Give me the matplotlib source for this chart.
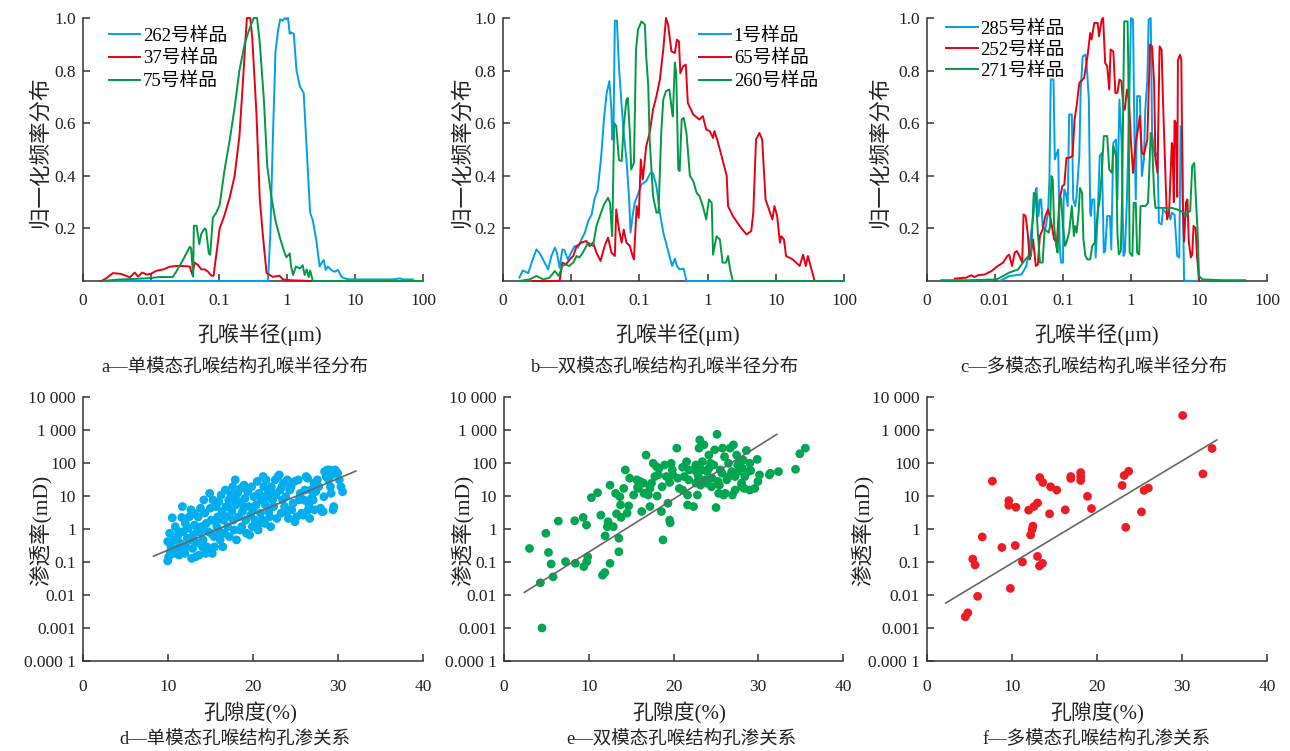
import numpy as np
import matplotlib
matplotlib.use('Agg')
import matplotlib.pyplot as plt

plt.rcParams['font.family'] = ['Liberation Serif', 'Noto Sans CJK SC']

# ---- pore-throat radius distributions (radius as log10 of um, normalised frequency) ----
# a: unimodal
a262_lg = [-2.71, -0.28, -0.245, -0.21, -0.17, -0.13, -0.10, -0.06, -0.03, -0.01,
           0.015, 0.04, 0.06, 0.10, 0.14, 0.19, 0.245, 0.29, 0.34, 0.38,
           0.43, 0.48, 0.505, 0.54, 0.57, 0.60, 0.65, 0.70, 0.75, 0.80,
           0.85, 0.92, 1.07, 1.56, 1.66, 1.71, 1.85]
a262_f = [0, 0, 0.18, 0.52, 0.87, 0.955, 0.995, 0.99, 1.0, 0.995,
          1.0, 0.94, 0.945, 0.94, 0.80, 0.74, 0.715, 0.5, 0.26, 0.23,
          0.156, 0.055, 0.067, 0.08, 0.042, 0.055, 0.042, 0.035, 0.042, 0.016,
          0.01, 0.006, 0.006, 0.006, 0.01, 0.006, 0.006]
a37_lg = [-2.73, -2.66, -2.56, -2.44, -2.31, -2.24, -2.19, -2.13, -2.06, -1.99,
          -1.92, -1.82, -1.73, -1.63, -1.53, -1.43, -1.39, -1.36, -1.31, -1.26,
          -1.21, -1.16, -1.11, -1.08, -1.04, -0.99, -0.92, -0.84, -0.77, -0.70,
          -0.65, -0.61, -0.59, -0.54, -0.51, -0.45, -0.40, -0.35, -0.30, -0.21,
          -0.11, -0.06, 0.04, 0.36]
a37_f = [0, 0.01, 0.03, 0.027, 0.014, 0.032, 0.017, 0.032, 0.024, 0.029,
         0.039, 0.044, 0.054, 0.057, 0.057, 0.055, 0.023, 0.07, 0.061, 0.044,
         0.044, 0.035, 0.02, 0.02, 0.1, 0.2, 0.25, 0.32, 0.40, 0.55,
         0.75, 0.92, 1.0, 1.0, 0.92, 0.64, 0.31, 0.16, 0.03, 0.016,
         0.02, 0.006, 0.003, 0]
a75_lg = [-2.71, -2.51, -2.07, -1.87, -1.68, -1.63, -1.53, -1.43, -1.41, -1.38,
          -1.37, -1.33, -1.29, -1.26, -1.21, -1.19, -1.15, -1.13, -1.09, -1.04,
          -0.99, -0.92, -0.84, -0.77, -0.70, -0.62, -0.55, -0.49, -0.44, -0.40,
          -0.34, -0.29, -0.23, -0.17, -0.11, -0.05, -0.01, 0.04, 0.06, 0.09,
          0.13, 0.19, 0.23, 0.26, 0.29, 0.32, 0.34, 0.38, 2.0]
a75_f = [0, 0.005, 0.01, 0.015, 0.015, 0.035, 0.08, 0.13, 0.125, 0.016,
         0.21, 0.21, 0.14, 0.18, 0.2, 0.195, 0.105, 0.1, 0.24, 0.26,
         0.29, 0.42, 0.54, 0.66, 0.80, 0.905, 0.96, 1.0, 1.0, 0.905,
         0.69, 0.435, 0.32, 0.23, 0.17, 0.118, 0.09, 0.105, 0.055, 0.023,
         0.055, 0.048, 0.06, 0.023, 0.044, 0.015, 0.04, 0, 0]

# b: bimodal
b1_lg = [-2.76, -2.71, -2.63, -2.58, -2.51, -2.46, -2.39, -2.34, -2.29, -2.24,
         -2.21, -2.17, -2.13, -2.10, -2.05, -2.00, -1.95, -1.90, -1.85, -1.80,
         -1.75, -1.70, -1.66, -1.61, -1.56, -1.52, -1.48, -1.44, -1.41, -1.40,
         -1.38, -1.36, -1.33, -1.30, -1.26, -1.23, -1.19, -1.15, -1.13, -1.10,
         -1.07, -1.02, -0.97, -0.90, -0.84, -0.80, -0.75, -0.70, -0.65, -0.61,
         -0.56, -0.52, -0.48, -0.45, -0.41, -0.35, -0.31, 0.32]
b1_f = [0.013, 0.04, 0.03, 0.07, 0.12, 0.105, 0.07, 0.044, 0.095, 0.127,
        0.108, 0.05, 0.12, 0.118, 0.082, 0.108, 0.133, 0.127, 0.158, 0.184,
        0.228, 0.253, 0.31, 0.348, 0.475, 0.614, 0.715, 0.76, 0.652, 0.538,
        0.563, 0.99, 0.99, 0.816, 0.665, 0.563, 0.462, 0.31, 0.184, 0.247,
        0.297, 0.33, 0.367, 0.38, 0.41, 0.41, 0.36, 0.26, 0.184, 0.146,
        0.095, 0.057, 0.085, 0.057, 0.044, 0.047, 0, 0]
b65_lg = [-2.56, -2.17, -2.13, -2.08, -2.02, -1.97, -1.92, -1.85, -1.78, -1.73,
          -1.68, -1.63, -1.57, -1.51, -1.46, -1.41, -1.36, -1.34, -1.30, -1.26,
          -1.23, -1.19, -1.14, -1.10, -1.08, -1.04, -1.01, -0.98, -0.95, -0.92,
          -0.90, -0.85, -0.80, -0.75, -0.70, -0.65, -0.61, -0.58, -0.53, -0.48,
          -0.45, -0.42, -0.40, -0.36, -0.32, -0.29, -0.21, -0.12, -0.07, -0.02,
          0.03, 0.08, 0.10, 0.14, 0.18, 0.28, 0.30, 0.37, 0.47, 0.57,
          0.64, 0.67, 0.71, 0.76, 0.80, 0.85, 0.90, 0.95, 0.98, 1.02,
          1.06, 1.08, 1.12, 1.15, 1.25, 1.35, 1.40, 1.44, 1.47, 1.51,
          1.57]
b65_f = [0, 0, 0.07, 0.063, 0.082, 0.095, 0.133, 0.146, 0.152, 0.133,
         0.146, 0.108, 0.076, 0.133, 0.165, 0.108, 0.095, 0.272, 0.196, 0.146,
         0.196, 0.146, 0.133, 0.095, 0.082, 0.285, 0.24, 0.462, 0.386, 0.462,
         0.513, 0.563, 0.652, 0.703, 0.766, 0.88, 1.0, 0.975, 0.873, 0.867,
         0.918, 0.911, 0.79, 0.816, 0.823, 0.677, 0.633, 0.614, 0.627, 0.576,
         0.57, 0.544, 0.57, 0.538, 0.5, 0.4, 0.285, 0.247, 0.209, 0.177,
         0.19, 0.26, 0.538, 0.563, 0.538, 0.31, 0.272, 0.234, 0.285, 0.247,
         0.146, 0.17, 0.158, 0.095, 0.082, 0.057, 0.1, 0.057, 0.095, 0.057,
         0]
b260_lg = [-2.76, -2.61, -2.51, -2.41, -2.32, -2.24, -2.18, -2.13, -2.08, -2.03,
           -1.97, -1.92, -1.88, -1.83, -1.75, -1.68, -1.63, -1.58, -1.52, -1.46,
           -1.43, -1.40, -1.39, -1.37, -1.34, -1.30, -1.26, -1.23, -1.19, -1.17,
           -1.14, -1.12, -1.08, -1.07, -1.05, -1.02, -0.97, -0.92, -0.90, -0.87,
           -0.85, -0.82, -0.80, -0.75, -0.72, -0.68, -0.65, -0.61, -0.56, -0.52,
           -0.51, -0.48, -0.46, -0.43, -0.41, -0.38, -0.35, -0.31, -0.26, -0.21,
           -0.16, -0.12, -0.07, -0.02, 0.02, 0.06, 0.08, 0.13, 0.18, 0.22,
           0.27, 0.30, 0.33, 0.37, 2.0]
b260_f = [0, 0.006, 0.019, 0.006, 0.012, 0.038, 0.019, 0.057, 0.063, 0.057,
          0.07, 0.095, 0.089, 0.108, 0.146, 0.133, 0.209, 0.247, 0.29, 0.316,
          0.297, 0.17, 0.297, 0.6, 0.59, 0.46, 0.456, 0.59, 0.69, 0.696,
          0.563, 0.424, 0.45, 0.59, 0.88, 0.956, 0.987, 0.975, 0.854, 0.74,
          0.538, 0.41, 0.323, 0.26, 0.26, 0.563, 0.69, 0.722, 0.728, 0.64,
          0.626, 0.83, 0.79, 0.424, 0.418, 0.614, 0.62, 0.563, 0.4, 0.38,
          0.335, 0.323, 0.285, 0.234, 0.31, 0.297, 0.1, 0.17, 0.158, 0.07,
          0.07, 0.095, 0.044, 0, 0]

# c: multimodal
c285_lg = [-1.93, -1.79, -1.69, -1.61, -1.54, -1.50, -1.47, -1.43, -1.40, -1.39,
           -1.36, -1.34, -1.32, -1.30, -1.26, -1.22, -1.20, -1.18, -1.14, -1.12,
           -1.09, -1.07, -1.05, -1.03, -1.00, -0.99, -0.98, -0.96, -0.93, -0.91,
           -0.87, -0.85, -0.82, -0.80, -0.76, -0.74, -0.71, -0.67, -0.65, -0.62,
           -0.60, -0.59, -0.57, -0.54, -0.52, -0.49, -0.46, -0.43, -0.40, -0.38,
           -0.35, -0.31, -0.29, -0.26, -0.22, -0.20, -0.17, -0.14, -0.11, -0.09,
           -0.06, -0.03, 0.00, 0.03, 0.05, 0.07, 0.09, 0.13, 0.16, 0.19,
           0.21, 0.24, 0.26, 0.29, 0.31, 0.35, 0.39, 0.41, 0.45, 0.47,
           0.51, 0.55, 0.58, 0.60, 0.64, 0.68, 0.71, 0.73, 0.75, 0.78,
           0.80, 1.00]
c285_f = [0, 0.019, 0.022, 0.025, 0.057, 0.108, 0.184, 0.26, 0.348, 0.354,
          0.247, 0.31, 0.31, 0.209, 0.196, 0.26, 0.386, 0.766, 0.766, 0.462,
          0.487, 0.5, 0.146, 0.07, 0.07, 0.31, 0.348, 0.335, 0.285, 0.633,
          0.633, 0.31, 0.285, 0.323, 0.475, 0.728, 0.854, 0.861, 0.816, 0.69,
          0.26, 0.247, 0.31, 0.31, 0.089, 0.247, 0.475, 0.487, 0.108, 0.114,
          0.247, 0.247, 0.12, 0.525, 0.538, 0.31, 0.69, 0.538, 0.095, 0.108,
          0.31, 0.627, 1.0, 0.994, 0.563, 0.31, 0.703, 0.703, 0.399, 0.462,
          0.652, 0.766, 0.994, 1.0, 0.563, 0.475, 0.487, 0.222, 0.215, 0.272,
          0.26, 0.26, 0.234, 0.26, 0.253, 0.095, 0.089, 0.589, 0.576, 0.006,
          0, 0]
c252_lg = [-2.59, -2.42, -2.35, -2.30, -2.25, -2.15, -2.05, -1.96, -1.88, -1.82,
           -1.79, -1.75, -1.71, -1.68, -1.64, -1.60, -1.58, -1.55, -1.52, -1.49,
           -1.47, -1.44, -1.42, -1.40, -1.37, -1.34, -1.30, -1.26, -1.22, -1.18,
           -1.13, -1.09, -1.05, -1.01, -0.98, -0.95, -0.91, -0.86, -0.83, -0.80,
           -0.76, -0.71, -0.69, -0.64, -0.60, -0.58, -0.54, -0.49, -0.47, -0.43,
           -0.41, -0.38, -0.35, -0.32, -0.30, -0.26, -0.23, -0.20, -0.17, -0.14,
           -0.11, -0.09, -0.06, -0.03, 0.00, 0.03, 0.07, 0.11, 0.13, 0.16,
           0.19, 0.24, 0.28, 0.31, 0.34, 0.36, 0.39, 0.42, 0.45, 0.47,
           0.51, 0.53, 0.56, 0.60, 0.61, 0.63, 0.64, 0.66, 0.68, 0.69,
           0.72, 0.74, 0.76, 0.78, 0.81, 0.83, 0.85, 0.88, 0.90, 0.92,
           0.95, 0.97, 1.00]
c252_f = [0.009, 0.013, 0.022, 0.015, 0.022, 0.025, 0.038, 0.057, 0.07, 0.095,
          0.1, 0.057, 0.108, 0.114, 0.095, 0.07, 0.253, 0.247, 0.184, 0.082,
          0.108, 0.158, 0.108, 0.057, 0.063, 0.171, 0.196, 0.247, 0.272, 0.234,
          0.158, 0.146, 0.31, 0.36, 0.367, 0.468, 0.468, 0.475, 0.614, 0.665,
          0.753, 0.766, 0.772, 0.854, 0.943, 0.918, 0.981, 0.981, 0.93, 0.994,
          1.0, 0.829, 0.816, 0.728, 0.88, 0.873, 0.715, 0.715, 0.766, 0.76,
          0.652, 0.652, 0.728, 0.69, 0.525, 0.411, 0.525, 0.589, 0.627, 0.487,
          0.481, 0.538, 0.899, 0.892, 0.753, 0.462, 0.411, 0.892, 0.88, 0.69,
          0.373, 0.234, 0.26, 0.525, 0.513, 0.30, 0.61, 0.60, 0.32, 0.84,
          0.86, 0.84, 0.30, 0.15, 0.30, 0.31, 0.15, 0.09, 0.10, 0.21,
          0.20, 0.10, 0]
c271_lg = [-2.79, -2.37, -1.98, -1.88, -1.79, -1.66, -1.59, -1.53, -1.47, -1.43,
           -1.40, -1.37, -1.34, -1.30, -1.27, -1.24, -1.21, -1.19, -1.17, -1.15,
           -1.13, -1.10, -1.08, -1.05, -1.03, -1.00, -0.97, -0.95, -0.91, -0.87,
           -0.84, -0.82, -0.80, -0.77, -0.75, -0.72, -0.70, -0.67, -0.64, -0.60,
           -0.57, -0.53, -0.49, -0.46, -0.43, -0.40, -0.35, -0.32, -0.28, -0.26,
           -0.22, -0.20, -0.18, -0.15, -0.13, -0.10, -0.05, -0.04, -0.02, 0.02,
           0.04, 0.07, 0.09, 0.12, 0.14, 0.18, 0.21, 0.25, 0.29, 0.31,
           0.34, 0.36, 0.43, 0.53, 0.60, 0.68, 0.73, 0.78, 0.81, 0.84,
           0.87, 0.90, 0.93, 0.95, 0.98, 1.00, 1.05, 1.34, 1.68]
c271_f = [0.003, 0.003, 0.006, 0.019, 0.032, 0.044, 0.07, 0.089, 0.095, 0.335,
          0.329, 0.184, 0.07, 0.07, 0.196, 0.19, 0.184, 0.209, 0.399, 0.386,
          0.209, 0.133, 0.108, 0.31, 0.316, 0.209, 0.133, 0.146, 0.184, 0.285,
          0.171, 0.209, 0.184, 0.26, 0.354, 0.335, 0.158, 0.095, 0.082, 0.082,
          0.133, 0.146, 0.26, 0.31, 0.411, 0.551, 0.551, 0.424, 0.411, 0.513,
          0.475, 0.184, 0.101, 0.114, 0.335, 0.987, 0.987, 0.816, 0.108, 0.095,
          0.297, 0.297, 0.108, 0.101, 0.285, 0.285, 0.285, 0.297, 0.563, 0.525,
          0.335, 0.278, 0.278, 0.278, 0.278, 0.272, 0.266, 0.26, 0.247, 0.26,
          0.266, 0.437, 0.449, 0.335, 0.184, 0.019, 0.006, 0.003, 0.003]

# ---- porosity (%) vs permeability (log10 of mD) ----
d_por = [9.96, 10.08, 10.27, 9.96, 10.19, 10.5, 10.35, 10.65, 10.85, 11.04,
         11.12, 11.31, 11.43, 11.62, 11.7, 11.81, 12.0, 12.12, 12.27, 12.39,
         12.51, 12.7, 12.78, 12.9, 12.97, 13.12, 13.28, 13.36, 13.55, 13.66,
         13.74, 13.93, 14.05, 14.13, 14.32, 14.44, 14.51, 14.71, 14.82, 14.9,
         14.98, 15.09, 15.21, 15.29, 15.4, 15.48, 15.67, 15.75, 15.86, 15.98,
         16.06, 16.13, 16.25, 16.37, 16.52, 16.64, 16.75, 16.83, 16.91, 17.02,
         17.14, 17.21, 17.41, 17.52, 17.6, 17.68, 17.79, 17.91, 17.99, 18.06,
         18.18, 18.3, 18.37, 18.57, 18.68, 18.76, 18.95, 19.07, 19.15, 19.22,
         19.38, 19.53, 19.61, 19.72, 19.84, 19.92, 20.11, 20.23, 20.38, 20.5,
         20.61, 20.69, 20.88, 21.0, 21.08, 21.19, 21.27, 21.38, 21.46, 21.54,
         21.69, 21.85, 21.96, 22.08, 22.16, 22.31, 22.43, 22.62, 22.7, 22.81,
         22.93, 23.09, 23.2, 23.32, 23.47, 23.59, 23.71, 23.86, 24.02, 24.17,
         24.32, 24.48, 24.56, 24.71, 24.87, 24.94, 25.14, 25.33, 25.56, 25.72,
         25.91, 26.1, 26.25, 26.42, 26.49, 26.57, 26.68, 26.87, 27.07, 27.18,
         27.37, 27.57, 27.72, 27.95, 28.11, 28.26, 28.42, 28.61, 28.73, 28.88,
         29.0, 29.11, 29.27, 29.42, 29.5, 29.65, 29.81, 29.96, 30.15, 30.35,
         30.54, 10.73, 11.24, 11.51, 12.05, 12.59, 13.05, 13.44, 13.82, 14.21,
         14.59, 15.06, 15.6, 16.45, 17.07, 17.76, 18.46, 18.92, 20.0, 20.77,
         21.31, 21.78, 22.47, 23.4, 23.98, 25.41, 26.02, 26.8, 27.26, 28.34,
         29.19]
d_perm_lg = [-0.97, -0.84, -0.69, -0.38, -0.13, 0.34, -0.54, -0.74, 0.07, -0.59,
             -0.23, -0.79, -0.43, 0.35, 0.68, -0.08, -0.74, -0.54, -0.28, 0.02,
             0.37, 0.58, -0.89, -0.59, -0.18, 0.12, -0.84, -0.41, 0.37, -0.79,
             -0.08, 0.07, -0.54, -0.33, 0.48, -0.74, 0.17, -0.08, -0.64, 1.08,
             0.63, 0.27, -0.74, 0.88, -0.23, -0.54, 0.68, 0.07, 0.37, 0.83,
             -0.08, -0.33, 1.03, 0.53, 0.27, -0.13, 1.18, 0.68, 0.37, 0.07,
             0.88, -0.23, 1.03, 0.53, 1.28, 0.27, -0.03, 1.49, 0.73, -0.33,
             1.08, 0.37, 0.83, 1.23, 0.07, 0.53, 1.33, 0.93, 0.27, -0.13,
             1.13, 0.68, -0.18, 0.42, 1.28, 0.07, 0.98, 0.27, 0.73, 1.44,
             -0.03, 1.08, 0.48, 0.88, 0.27, 1.59, 1.28, 0.17, 0.73, 1.49,
             0.98, 0.53, 0.37, 0.07, 1.28, 0.88, 0.68, 1.49, 1.03, 0.32,
             1.59, 1.64, 1.18, 0.48, 0.88, 1.39, 0.68, 0.98, 1.49, 0.32,
             1.18, 1.28, 0.58, 0.78, 1.44, 0.22, 0.37, 1.49, 1.08, 0.48,
             0.42, 1.18, 1.59, 1.54, 0.58, 0.73, 0.32, 0.93, 0.88, 1.39,
             1.13, 1.49, 1.28, 0.63, 0.53, 0.53, 1.74, 1.59, 1.79, 1.49,
             1.79, 1.28, 1.64, 0.58, 0.68, 1.79, 1.74, 1.69, 1.49, 1.28,
             1.13, -0.33, -0.08, -0.54, 0.17, -0.33, 0.48, -0.08, 0.63, 0.88,
             -0.54, -0.13, 0.22, -0.54, 0.68, 0.88, -0.03, 0.68, 0.58, 0.17,
             0.98, 1.18, 1.08, 1.28, 0.53, 0.88, 0.88, 1.18, 0.58, 0.98,
             1.08]
d_fit_por = [8.3, 32.1]
d_fit_perm = [0.15, 57]

e_por = [3.01, 4.94, 5.25, 5.56, 5.79, 4.29, 4.48, 7.26, 6.41, 8.34,
         8.42, 9.34, 9.42, 9.73, 9.77, 9.88, 10.31, 11.04, 11.43, 11.62,
         11.89, 11.93, 12.2, 12.28, 12.51, 12.51, 12.9, 13.17, 13.28, 13.55,
         13.55, 13.67, 13.75, 13.82, 14.13, 14.32, 14.52, 14.71, 14.83, 15.29,
         15.68, 15.75, 15.87, 16.06, 16.25, 16.45, 16.53, 16.76, 16.83, 17.03,
         17.22, 17.22, 17.41, 17.61, 17.8, 17.99, 18.07, 18.19, 18.3, 18.57,
         18.65, 18.76, 18.96, 19.15, 19.34, 19.54, 19.54, 19.61, 19.73, 19.85,
         19.92, 20.39, 20.5, 20.69, 21.08, 21.27, 21.54, 21.66, 21.66, 21.78,
         22.36, 22.63, 22.7, 22.82, 22.93, 23.01, 23.09, 23.2, 23.32, 23.4,
         23.59, 23.78, 23.86, 23.98, 24.17, 24.36, 24.48, 24.56, 24.86, 25.02,
         25.14, 25.25, 25.33, 25.52, 25.71, 25.79, 26.02, 26.1, 26.29, 26.49,
         26.68, 26.87, 26.95, 27.07, 27.26, 27.45, 27.57, 27.64, 27.84, 28.03,
         28.11, 28.22, 28.34, 28.42, 28.61, 28.8, 29.0, 29.11, 29.58, 29.88,
         29.96, 30.15, 31.31, 31.43, 32.39, 34.4, 34.9, 35.56, 29.0, 28.03,
         27.26, 26.49, 25.91, 25.41, 24.75, 24.17, 23.4, 22.63, 21.85, 21.08]
e_perm_lg = [-0.59, -0.13, -0.71, -1.06, -1.45, -1.63, -3.0, -0.99, 0.24, 0.25,
             -1.04, 0.35, -1.14, 0.12, -0.99, -0.84, 0.95, 1.10, 0.42, -1.40,
             -1.32, -0.21, 0.07, 0.22, 1.33, -1.04, 0.07, 1.08, 0.46, -0.28,
             -0.69, 0.98, 0.73, 0.35, 1.23, 1.79, 0.48, 0.70, 1.54, 1.03,
             1.49, 1.26, 1.23, 1.44, 0.53, 1.39, 1.08, 2.24, 1.08, 1.03,
             1.23, 0.68, 1.39, 1.99, 1.59, 1.89, 1.0, 1.64, 1.84, 0.53,
             1.28, -0.33, 1.94, 1.59, 0.78, 1.41, 0.27, 0.19, 1.99, 1.79,
             1.64, 2.45, 1.54, 1.23, 1.87, 1.59, 2.04, 1.03, 0.73, 1.49,
             0.68, 1.94, 1.74, 1.03, 1.59, 2.45, 2.70, 1.33, 1.79, 1.39,
             2.55, 1.49, 1.39, 1.74, 1.84, 1.99, 1.28, 1.54, 2.40, 0.65,
             2.87, 1.44, 1.08, 1.79, 1.69, 2.45, 2.19, 1.08, 1.49, 1.99,
             2.45, 1.74, 1.03, 2.55, 1.59, 2.24, 1.94, 1.74, 2.04, 1.28,
             1.84, 2.09, 1.23, 1.59, 2.38, 1.74, 1.99, 1.77, 1.23, 2.11,
             1.44, 1.64, 1.64, 1.69, 1.74, 1.81, 2.28, 2.45, 1.18, 1.39,
             1.18, 1.59, 1.03, 1.33, 1.94, 2.24, 2.04, 1.39, 1.79, 1.18]
e_fit_por = [2.4, 32.2]
e_fit_perm = [0.012, 740]

f_por = [4.5, 4.81, 5.38, 5.65, 5.96, 6.5, 7.69, 8.81, 9.62, 9.62,
         9.81, 10.38, 10.46, 11.23, 11.96, 12.19, 12.38, 12.46, 12.58, 13.0,
         13.0, 13.23, 13.27, 13.58, 13.62, 14.42, 14.54, 15.27, 16.27, 16.92,
         16.92, 18.08, 18.08, 18.08, 18.88, 19.35, 22.96, 23.19, 23.38, 23.73,
         25.23, 25.54, 26.04, 30.08, 32.46, 33.54]
f_perm_lg = [-2.66, -2.54, -0.91, -1.09, -2.04, -0.24, 1.45, -0.56, 0.86, 0.72,
             -1.80, -0.50, 0.66, -1.0, 0.57, -0.18, -0.01, 0.09, 0.68, 0.79,
             -0.83, -1.12, 1.56, -1.04, 1.41, 0.46, 1.28, 1.18, 0.58, 1.59,
             1.53, 1.71, 1.59, 1.47, 0.99, 0.62, 1.32, 1.62, 0.05, 1.75,
             0.52, 1.17, 1.24, 3.44, 1.67, 2.44]
f_fit_por = [2.2, 34.1]
f_fit_perm = [0.0057, 500]

BLUE = '#00a0e9'
RED = '#e60012'
GREEN = '#009a44'
AXC = '#333333'

fig = plt.figure(figsize=(12.9, 7.51), dpi=100)


def add_ax(left, right, top, bottom):
    return fig.add_axes([left / 1290, 1 - bottom / 751,
                         (right - left) / 1290, (bottom - top) / 751])


def style(ax, xpad):
    for s in ['top', 'right']:
        ax.spines[s].set_visible(False)
    for s in ['left', 'bottom']:
        ax.spines[s].set_linewidth(1.1)
        ax.spines[s].set_color(AXC)
    ax.tick_params(direction='in', length=5, width=1.1, labelsize=12.5,
                   colors=AXC, labelcolor='#222222')
    ax.tick_params(axis='x', pad=xpad)
    ax.tick_params(axis='y', pad=5)
    ax.minorticks_off()


def ftext(x, y, s, size=13, rot=0):
    fig.text(x / 1290, 1 - y / 751, s, fontsize=size, rotation=rot,
             ha='center', va='center', color='#222222')


top_panels = [
    ((83, 423), [(a262_lg, a262_f, BLUE, '262号样品'),
                 (a37_lg, a37_f, RED, '37号样品'),
                 (a75_lg, a75_f, GREEN, '75号样品')], (0.075, 0.965), 0.3),
    ((503, 844), [(b1_lg, b1_f, BLUE, '1号样品'),
                  (b65_lg, b65_f, RED, '65号样品'),
                  (b260_lg, b260_f, GREEN, '260号样品')], (0.575, 0.965), 0.3),
    ((927, 1267), [(c285_lg, c285_f, BLUE, '285号样品'),
                   (c252_lg, c252_f, RED, '252号样品'),
                   (c271_lg, c271_f, GREEN, '271号样品')], (0.055, 0.99), 0.2),
]

for (l, r), curves, anchor, lspace in top_panels:
    ax = add_ax(l, r, 18, 281)
    for lg, f, col, lab in curves:
        ax.plot(10 ** np.array(lg), f, color=col, lw=1.4, label=lab,
                clip_on=False, zorder=3)
    ax.set_xscale('log')
    ax.set_xlim(1e-3, 100)
    ax.set_ylim(0, 1.0)
    ax.set_xticks([1e-3, 1e-2, 1e-1, 1, 10, 100])
    ax.set_xticklabels(['0', '0.01', '0.1', '1', '10', '100'])
    ax.set_yticks([0.2, 0.4, 0.6, 0.8, 1.0])
    ax.set_yticklabels(['0.2', '0.4', '0.6', '0.8', '1.0'])
    style(ax, 9)
    ax.minorticks_off()
    ax.legend(loc='upper left', bbox_to_anchor=anchor, frameon=False,
              fontsize=13.5, handlelength=1.7, handletextpad=0.15,
              labelspacing=lspace, borderpad=0, borderaxespad=0)

bottom_panels = [
    ((83, 423), d_por, d_perm_lg, d_fit_por, d_fit_perm, '#00aeef', 40),
    ((504, 843), e_por, e_perm_lg, e_fit_por, e_fit_perm, '#00a650', 40),
    ((927, 1267), f_por, f_perm_lg, f_fit_por, f_fit_perm, '#ed1c24', 40),
]

for (l, r), por, perm_lg, fx, fy, col, size in bottom_panels:
    ax = add_ax(l, r, 397, 661)
    ax.scatter(por, 10 ** np.array(perm_lg), s=size, color=col,
               edgecolors='none', zorder=2)
    ax.plot(fx, fy, color='#666666', lw=1.2, zorder=3)
    ax.set_yscale('log')
    ax.set_xlim(0, 40)
    ax.set_ylim(1e-4, 1e4)
    ax.set_xticks([0, 10, 20, 30, 40])
    ax.set_yticks([1e-4, 1e-3, 1e-2, 1e-1, 1, 10, 100, 1e3, 1e4])
    ax.set_yticklabels(['0.000 1', '0.001', '0.01', '0.1', '1', '10', '100',
                        '1 000', '10 000'])
    style(ax, 13)
    ax.minorticks_off()

# axis titles and panel captions
for x in (40, 462, 880):
    ftext(x, 152, '归一化频率分布', size=15.5, rot=90)
for x in (40, 462, 862):
    ftext(x, 530, '渗透率(mD)', size=15.5, rot=90)
for x in (260, 678, 1097):
    ftext(x, 335, '孔喉半径(μm)', size=15)
for x in (250, 679, 1097):
    ftext(x, 713, '孔隙度(%)', size=15)
ftext(235, 368, 'a—单模态孔喉结构孔喉半径分布', size=13.3)
ftext(665, 368, 'b—双模态孔喉结构孔喉半径分布', size=13.3)
ftext(1094, 368, 'c—多模态孔喉结构孔喉半径分布', size=13.3)
ftext(235, 740, 'd—单模态孔喉结构孔渗关系', size=13.3)
ftext(681, 740, 'e—双模态孔喉结构孔渗关系', size=13.3)
ftext(1097, 740, 'f—多模态孔喉结构孔渗关系', size=13.3)

fig.savefig('out.png', dpi=100)
